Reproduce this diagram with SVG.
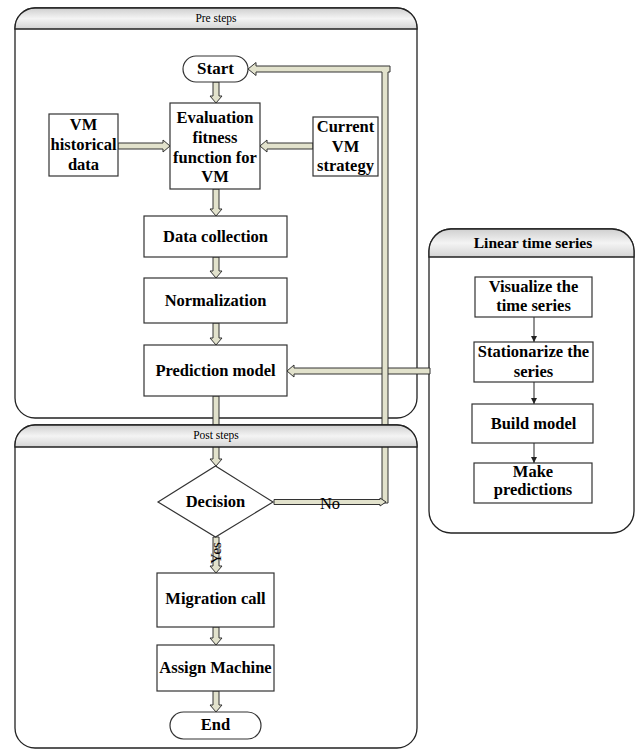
<svg xmlns="http://www.w3.org/2000/svg" width="638" height="749" viewBox="0 0 638 749">
  <defs>
    <linearGradient id="hdr" x1="0" y1="0" x2="0" y2="1">
      <stop offset="0" stop-color="#cfcfcf"/>
      <stop offset="0.5" stop-color="#f4f4f4"/>
      <stop offset="1" stop-color="#d4d4d4"/>
    </linearGradient>
    <marker id="tip" viewBox="0 0 6 6" refX="6" refY="3" markerWidth="6" markerHeight="6" orient="auto" markerUnits="userSpaceOnUse">
      <path d="M0,0 L6,3 L0,6 Z" fill="#222"/>
    </marker>
    <style>
      .lane { fill: #fff; stroke: #222; stroke-width: 1.3; }
      .edge { fill: none; stroke: #222; stroke-width: 1.3; }
      .hdr { fill: url(#hdr); stroke: #222; stroke-width: 1.3; }
      .box { fill: #fff; stroke: #333; stroke-width: 1.2; }
      .blk { fill: #e2e2cc; stroke: #333; stroke-width: 1; stroke-linejoin: miter; }
      .thin { stroke: #222; stroke-width: 1; fill: none; marker-end: url(#tip); }
      text { font-family: "Liberation Serif", "Times New Roman", serif; fill: #000; text-anchor: middle; }
      .t { font-size: 16.5px; font-weight: bold; }
      .cap { font-size: 11.5px; }
      .lbl { font-size: 16.5px; }
    </style>
  </defs>

  <!-- swimlane containers -->
  <g id="pre-steps">
    <rect class="lane" x="15" y="8" width="402" height="410" rx="20"/>
    <path class="hdr" d="M15,29 V28 A20,20 0 0 1 35,8 H397 A20,20 0 0 1 417,28 V29 Z"/>
    <text class="cap" x="216" y="22">Pre steps</text>
  </g>
  <g id="linear-time-series">
    <rect class="lane" x="429" y="229" width="205" height="304" rx="22"/>
    <path class="hdr" d="M429,257 V251 A22,22 0 0 1 451,229 H612 A22,22 0 0 1 634,251 V257 Z"/>
    <text class="t" x="533" y="248" style="font-size:15.5px">Linear time series</text>
  </g>

  <!-- connectors -->
  <g id="connectors">
    <polygon class="blk" points="213,82 219,82 219,96 222,96 216,103 210,96 213,96"/>
    <polygon class="blk" points="213,189 219,189 219,209 222,209 216,216 210,209 213,209"/>
    <polygon class="blk" points="213,257 219,257 219,271 222,271 216,278 210,271 213,271"/>
    <polygon class="blk" points="213,323 219,323 219,338 222,338 216,345 210,338 213,338"/>
    <polygon class="blk" points="213,396 219,396 219,459 222,459 216,466 210,459 213,459"/>
    <polygon class="blk" points="213,537 219,537 219,566 222,566 216,573 210,566 213,566"/>
    <polygon class="blk" points="213,627 219,627 219,638 222,638 216,645 210,638 213,638"/>
    <polygon class="blk" points="213,691 219,691 219,705 222,705 216,712 210,705 213,705"/>
    <polygon class="blk" points="118,143 163,143 163,140 170,146 163,152 163,149 118,149"/>
    <polygon class="blk" points="313,143 267,143 267,140 260,146 267,152 267,149 313,149"/>
    <polygon class="blk" points="430,368 294,368 294,365 287,371 294,377 294,374 430,374"/>
    <!-- "No" branch loops back up to Start -->
    <polygon class="blk" points="382,503 382,72 256,72 256,75.5 248,69 256,62.5 256,66 390,66 390,72 388,72 388,503"/>
    <polygon class="blk" points="274,499.5 380,499.5 380,498 386,502 380,506 380,504.5 274,504.5"/>
    <text class="lbl" x="330" y="509">No</text>
    <text class="lbl" transform="translate(221,553) rotate(-90)" style="font-size:15px">Yes</text>
    <!-- linear time series steps -->
    <line class="thin" x1="534" y1="317" x2="534" y2="342"/>
    <line class="thin" x1="534" y1="382" x2="534" y2="404"/>
    <line class="thin" x1="534" y1="443" x2="534" y2="463"/>
  </g>

  <!-- lower lane: outline and header sit above the connectors passing through -->
  <g id="post-steps">
    <rect class="edge" x="15" y="425" width="402" height="323" rx="20"/>
    <path class="hdr" d="M15,447 V445 A20,20 0 0 1 35,425 H397 A20,20 0 0 1 417,445 V447 Z"/>
    <text class="cap" x="216" y="439">Post steps</text>
  </g>

  <!-- nodes -->
  <g id="start">
    <rect class="box" x="183" y="56" width="65" height="26" rx="13"/>
    <text class="t" x="215.5" y="74" style="font-size:17px">Start</text>
  </g>
  <g id="evaluation">
    <rect class="box" x="170" y="103" width="90" height="86"/>
    <text class="t" x="215" y="123">Evaluation</text>
    <text class="t" x="215" y="143">fitness</text>
    <text class="t" x="215" y="163">function for</text>
    <text class="t" x="215" y="182">VM</text>
  </g>
  <g id="vm-historical">
    <rect class="box" x="49" y="114" width="69" height="62"/>
    <text class="t" x="83.5" y="130">VM</text>
    <text class="t" x="83.5" y="150">historical</text>
    <text class="t" x="83.5" y="170">data</text>
  </g>
  <g id="current-vm">
    <rect class="box" x="313" y="117" width="65" height="59"/>
    <text class="t" x="345.5" y="132">Current</text>
    <text class="t" x="345.5" y="152">VM</text>
    <text class="t" x="345.5" y="171">strategy</text>
  </g>
  <g id="data-collection">
    <rect class="box" x="144" y="216" width="143" height="41"/>
    <text class="t" x="215.5" y="242">Data collection</text>
  </g>
  <g id="normalization">
    <rect class="box" x="144" y="278" width="143" height="45"/>
    <text class="t" x="215.5" y="306">Normalization</text>
  </g>
  <g id="prediction-model">
    <rect class="box" x="144" y="345" width="143" height="51"/>
    <text class="t" x="215.5" y="376">Prediction model</text>
  </g>
  <g id="decision">
    <polygon class="box" points="158,502 215.5,466 273,502 215.5,537"/>
    <text class="t" x="215.5" y="507">Decision</text>
  </g>
  <g id="migration-call">
    <rect class="box" x="157" y="573" width="117" height="54"/>
    <text class="t" x="215.5" y="604">Migration call</text>
  </g>
  <g id="assign-machine">
    <rect class="box" x="157" y="645" width="117" height="46"/>
    <text class="t" x="215.5" y="673">Assign Machine</text>
  </g>
  <g id="end">
    <rect class="box" x="170" y="712" width="91" height="27" rx="13.5"/>
    <text class="t" x="215.5" y="730">End</text>
  </g>
  <g id="visualize">
    <rect class="box" x="475" y="277" width="117" height="40"/>
    <text class="t" x="533.5" y="292">Visualize the</text>
    <text class="t" x="533.5" y="311">time series</text>
  </g>
  <g id="stationarize">
    <rect class="box" x="474" y="342" width="119" height="40"/>
    <text class="t" x="533.5" y="357">Stationarize the</text>
    <text class="t" x="533.5" y="377">series</text>
  </g>
  <g id="build-model">
    <rect class="box" x="472" y="404" width="121" height="39"/>
    <text class="t" x="533.5" y="429">Build model</text>
  </g>
  <g id="make-predictions">
    <rect class="box" x="474" y="463" width="118" height="40"/>
    <text class="t" x="533" y="477">Make</text>
    <text class="t" x="533" y="495">predictions</text>
  </g>
</svg>
